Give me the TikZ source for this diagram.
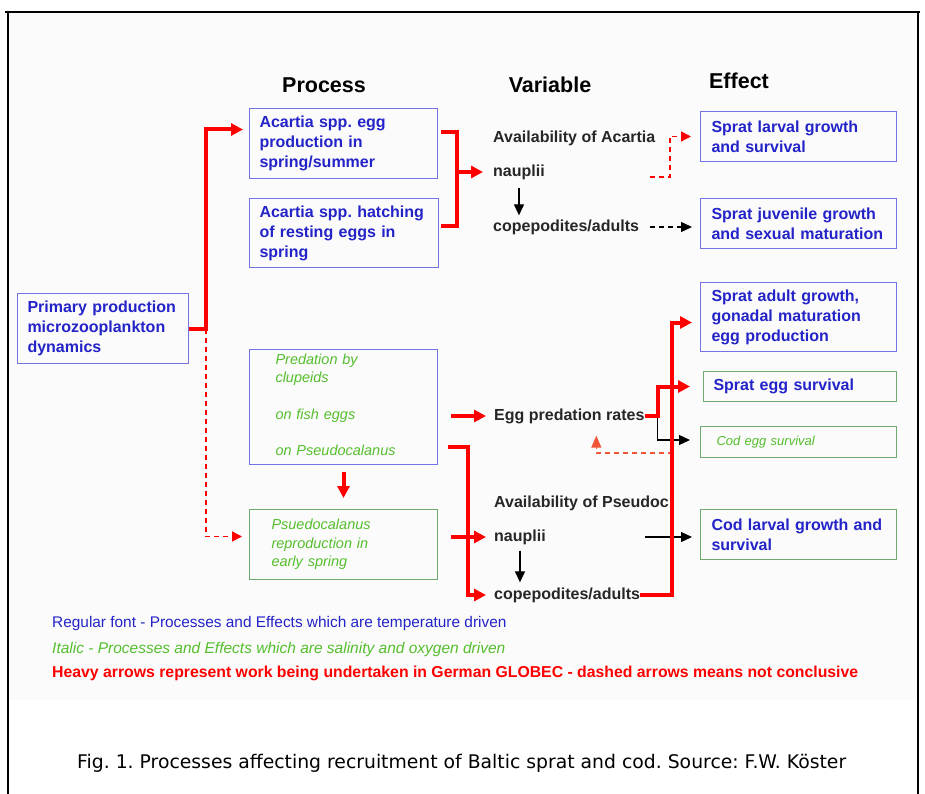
\documentclass[tikz,border=0pt]{standalone}
\usepackage{fontspec}
\setmainfont{Liberation Sans}
\newfontfamily\capfont{DejaVu Sans}
\usetikzlibrary{arrows.meta}
\frenchspacing

\definecolor{txtblue}{RGB}{35,35,200}
\definecolor{boxblue}{RGB}{115,115,230}
\definecolor{txtgreen}{RGB}{85,190,45}
\definecolor{boxgreen}{RGB}{110,170,110}
\definecolor{arrred}{RGB}{255,0,0}
\definecolor{dashorange}{RGB}{240,85,55}
\definecolor{paper}{RGB}{251,251,251}

\tikzset{
  boxfont/.style={font=\bfseries\fontsize{16}{20}\selectfont},
  itfont/.style={font=\itshape\fontsize{14.5}{18.5}\selectfont},
  pbox/.style={anchor=north west, draw=boxblue, line width=1pt, align=left,
    inner ysep=0pt, text=txtblue, boxfont},
  gbox/.style={pbox, draw=boxgreen},
  varlabel/.style={anchor=west, inner sep=0pt, text=black!85, boxfont},
  head/.style={inner sep=0pt, font=\bfseries\fontsize{21.5}{26}\selectfont},
  heavy/.style={draw=arrred, line width=4pt, -{Triangle[length=12pt,width=12pt]}},
  heavyline/.style={draw=arrred, line width=4pt},
  dashedred/.style={draw=arrred, line width=1.5pt, dash pattern=on 5pt off 4pt,
    -{Triangle[length=10pt,width=10pt]}},
  blk/.style={draw=black, line width=1.2pt, -{Triangle[length=11pt,width=10pt]}},
  blkdash/.style={blk, dash pattern=on 5pt off 4pt}
}

\begin{document}
\begin{tikzpicture}[x=1pt,y=-1pt]
  \useasboundingbox (0,0) rectangle (925,794);

  % frame and paper
  \fill[paper] (9,13) rectangle (917,700);
  \draw[line width=1.5pt] (5,12) -- (920,12);
  \draw[line width=1.5pt] (8,12) -- (8,794);
  \draw[line width=1.5pt] (918,12) -- (918,794);

  % column heads
  \node[head] (hproc) at (324,85) {Process};
  \node[head] (hvar) at (550,85) {Variable};
  \node[head] (heff) at (739,81) {Effect};

  % process boxes
  \node[pbox, inner xsep=10pt, text width=151pt, minimum height=70pt] (prim) at (17,293)
    {Primary production\\microzooplankton\\dynamics};
  \node[pbox, inner xsep=10pt, text width=168pt, minimum height=70pt] (acegg) at (249,108)
    {Acartia spp. egg\\production in\\spring/summer};
  \node[pbox, inner xsep=10pt, text width=169pt, minimum height=69pt] (achatch) at (249,198)
    {Acartia spp. hatching\\of resting eggs in\\spring};
  \node[pbox, itfont, text=txtgreen, inner xsep=26pt, text width=136pt, minimum height=115pt,
    text depth=96pt] (pred) at (249,349)
    {Predation by\\clupeids\\[18pt]on fish eggs\\[18pt]on Pseudocalanus};
  \node[gbox, itfont, text=txtgreen, inner xsep=22pt, text width=144pt, minimum height=70pt] (pseu) at (249,509)
    {Psuedocalanus\\reproduction in\\early spring};

  % variables
  \node[varlabel] (avacar) at (493,138) {Availability of Acartia};
  \node[varlabel] (naupA) at (493,172) {nauplii};
  \node[varlabel] (copA) at (493,227) {copepodites/adults};
  \node[varlabel] (eggrate) at (494,416) {Egg predation rates};
  \node[varlabel] (avpseu) at (494,503) {Availability of Pseudoc};
  \node[varlabel] (naupP) at (494,537) {nauplii};
  \node[varlabel] (copP) at (494,595) {copepodites/adults};

  % effect boxes
  \node[pbox, inner xsep=11pt, text width=174pt, minimum height=50pt] (efflarv) at (700,111)
    {Sprat larval growth\\and survival};
  \node[pbox, inner xsep=11pt, text width=174pt, minimum height=50pt] (effjuv) at (700,198)
    {Sprat juvenile growth\\and sexual maturation};
  \node[pbox, inner xsep=11pt, text width=174pt, minimum height=69pt] (effadult) at (700,282)
    {Sprat adult growth,\\gonadal maturation\\egg production};
  \node[gbox, inner xsep=10pt, text width=173pt, minimum height=30pt] (effspegg) at (703,371)
    {Sprat egg survival};
  \node[gbox, text=txtgreen, font=\itshape\fontsize{13}{16}\selectfont, inner xsep=16pt, text width=164pt,
    minimum height=31pt] (effcodegg) at (700,426)
    {Cod egg survival};
  \node[gbox, inner xsep=11pt, text width=174pt, minimum height=50pt] (effcodlarv) at (700,509)
    {Cod larval growth and\\survival};

  % Acartia branch
  \coordinate (split) at ([xshift=17pt]prim.east);
  \draw[heavy, shorten >=6pt] (prim.east) -- (split) |- ([yshift=14pt]acegg.west);
  \draw[dashedred, shorten >=7pt] (split) |- ([yshift=8pt]pseu.west);
  \draw[heavyline] ([xshift=3pt,yshift=11pt]acegg.east) -- ++(16,0)
    |- ([xshift=2pt,yshift=7pt]achatch.east);
  \draw[heavy, shorten >=10pt] (acegg.east |- naupA.west) ++(18,0) -- (naupA.west);
  \coordinate (dA) at ([xshift=105pt,yshift=-5pt]naupA.east);
  \draw[dashedred, shorten >=9pt] (dA) -- ++(20,0) |- (efflarv.west);
  \draw[blk, shorten <=8pt, shorten >=4pt] (naupA.south) -- (naupA.south |- copA.north);
  \draw[blkdash, shorten <=11pt, shorten >=8pt] (copA.east) -- (copA.east -| effjuv.west);

  % predation branch
  \draw[heavy, shorten <=13pt, shorten >=8pt] (pred.east |- eggrate.west) -- (eggrate.west);
  \draw[heavy, shorten <=7pt, shorten >=11pt] (pred.south) -- (pseu.north);
  \draw[heavy, shorten >=8pt] ([xshift=10pt,yshift=18pt]pred.south east) -- ++(20,0) |- (copP.west);
  \draw[heavy, shorten <=13pt, shorten >=8pt] (pseu.east |- naupP.west) -- (naupP.west);
  \draw[blk, shorten <=6pt, shorten >=5pt] (naupP.south) -- (naupP.south |- copP.north);
  \draw[blk, shorten >=8pt] ([xshift=99pt]naupP.east) -- (naupP.east -| effcodlarv.west);

  % egg predation forks
  \coordinate (eggfork) at ([xshift=13pt]eggrate.east);
  \draw[blk, shorten >=10pt] (eggrate.east) -- (eggfork) |- ([yshift=2pt]effcodegg.west);
  \draw[heavy, shorten >=13pt] (eggrate.east) -- (eggfork) |- (effspegg.west);
  \coordinate (backd) at (673,453);
  \draw[draw=dashorange, line width=1.5pt, dash pattern=on 5pt off 4pt,
    -{Triangle[length=12pt,width=10pt]}, shorten >=12pt] (backd) -| ([xshift=27pt]eggrate.south);
  \draw[heavy, shorten >=8pt] (copP.east) -- ++(32,0) |- ([yshift=-5.5pt]effadult.west);

  % legend
  \node[anchor=west, inner sep=0pt, text=txtblue, font=\fontsize{15.4}{18}\selectfont] (leg1) at (52,624)
    {Regular font - Processes and Effects which are temperature driven};
  \node[anchor=west, inner sep=0pt, text=txtgreen, font=\itshape\fontsize{15.5}{18}\selectfont] (leg2) at (52,649)
    {Italic - Processes and Effects which are salinity and oxygen driven};
  \node[anchor=west, inner sep=0pt, text=arrred, font=\bfseries\fontsize{15.8}{18}\selectfont] (leg3) at (52,673)
    {Heavy arrows represent work being undertaken in German GLOBEC - dashed arrows means not conclusive};

  % caption
  \node[anchor=west, inner sep=0pt, font=\capfont\fontsize{18.8}{22}\selectfont] (caption) at (77,763)
    {Fig. 1. Processes affecting recruitment of Baltic sprat and cod. Source: F.W. Köster};
\end{tikzpicture}
\end{document}
